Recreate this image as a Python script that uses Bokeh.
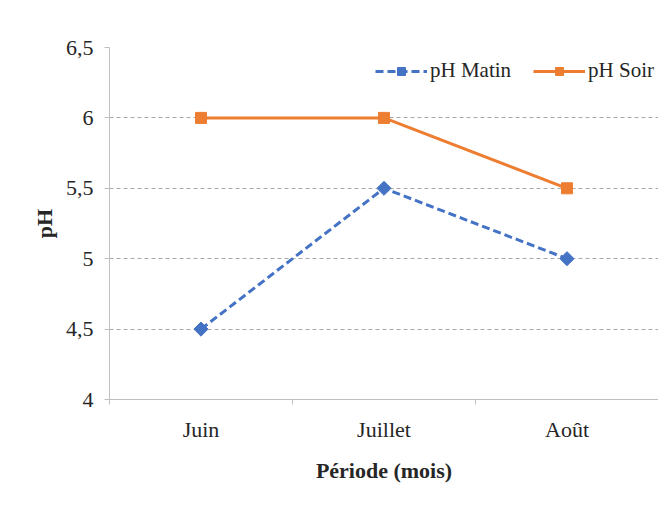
from bokeh.plotting import figure
from bokeh.models import FixedTicker, Range1d, ColumnDataSource, Legend, LegendItem
from bokeh.embed import file_html
from bokeh.resources import INLINE
import math

categories = ["Juin", "Juillet", "Août"]
ph_matin = [4.5, 5.5, 5.0]
ph_soir = [6.0, 6.0, 5.5]
y_ticks = [4.0, 4.5, 5.0, 5.5, 6.0, 6.5]
y_tick_labels = ["4", "4,5", "5", "5,5", "6", "6,5"]

FONT = "Liberation Serif"
TXT = "#262626"

x_pos = [i + 0.5 for i in range(len(categories))]
src = ColumnDataSource(dict(x=x_pos, matin=ph_matin, soir=ph_soir))

p = figure(width=658, height=498, output_backend="svg", toolbar_location=None,
           x_range=Range1d(0, len(categories)), y_range=Range1d(4, 6.5),
           min_border_left=109, min_border_top=47, min_border_bottom=99, min_border_right=0)
p.outline_line_color = None
p.background_fill_color = "white"
p.border_fill_color = "white"

# x axis
p.xaxis.ticker = FixedTicker(ticks=x_pos, minor_ticks=list(range(len(categories) + 1)))
p.xaxis.major_label_overrides = {x: c for x, c in zip(x_pos, categories)}
p.xaxis.major_tick_out = 0
p.xaxis.major_tick_in = 0
p.xaxis.minor_tick_out = 5
p.xaxis.minor_tick_in = 0
p.xaxis.axis_label = "Période (mois)"

# y axis
p.yaxis.ticker = FixedTicker(ticks=y_ticks, minor_ticks=[])
p.yaxis.major_label_overrides = {v: l for v, l in zip(y_ticks, y_tick_labels)}
p.yaxis.major_tick_out = 5
p.yaxis.major_tick_in = 0
p.yaxis.axis_label = "pH"

for ax in (p.xaxis, p.yaxis):
    ax.axis_line_color = "#bfbfbf"
    ax.major_tick_line_color = "#bfbfbf"
    ax.minor_tick_line_color = "#bfbfbf"
    ax.major_label_text_font = FONT
    ax.major_label_text_font_size = "22px"
    ax.major_label_text_color = TXT
    ax.axis_label_text_font = FONT
    ax.axis_label_text_font_size = "22px"
    ax.axis_label_text_font_style = "bold"
    ax.axis_label_text_color = TXT

p.xaxis.major_label_standoff = 12
p.xaxis.axis_label_standoff = 13
p.yaxis.major_label_standoff = 11
p.yaxis.axis_label_standoff = 6

p.xgrid.visible = False
p.ygrid.ticker = FixedTicker(ticks=y_ticks)
p.ygrid.grid_line_color = "#a8a8a8"
p.ygrid.grid_line_dash = "4 3"
p.ygrid.grid_line_width = 1

BLUE = "#4472C4"
ORANGE = "#ED7D31"

l1 = p.line("x", "matin", source=src, line_color=BLUE, line_width=3, line_dash="8 4")
m1 = p.scatter("x", "matin", source=src, marker="square", angle=math.pi / 4, size=10,
               fill_color=BLUE, line_color=BLUE)
l2 = p.line("x", "soir", source=src, line_color=ORANGE, line_width=3)
m2 = p.scatter("x", "soir", source=src, marker="square", size=11,
               fill_color=ORANGE, line_color=ORANGE)

legend = Legend(items=[LegendItem(label="pH Matin", renderers=[l1, m1]),
                       LegendItem(label="pH Soir", renderers=[l2, m2])],
                orientation="horizontal", location=(266, 316),
                border_line_color=None, background_fill_alpha=0,
                label_text_font=FONT, label_text_font_size="21px", label_text_color=TXT,
                glyph_width=52, glyph_height=20, label_standoff=3, spacing=22,
                padding=0, margin=0)
p.add_layout(legend, "center")

open("out.html", "w").write(file_html(p, INLINE))
